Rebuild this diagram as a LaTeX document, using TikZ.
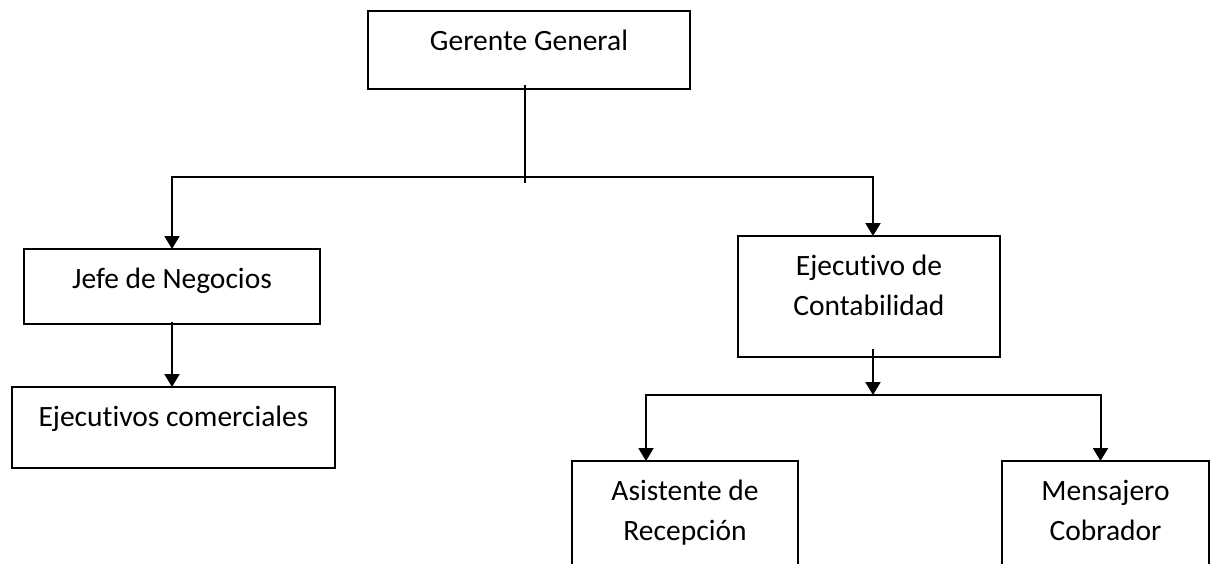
\documentclass[tikz,border=0pt]{standalone}
\usepackage{fontspec}
\setmainfont{Carlito}[Ligatures={NoCommon}]
\usetikzlibrary{arrows.meta}

\begin{document}
\begin{tikzpicture}[x=1pt, y=-1pt, line width=2pt,
    orgbox/.style={draw, inner sep=0pt, outer sep=0pt, align=center, anchor=north west, text height=39pt, font=\fontsize{29.5}{40}\selectfont},
    twoline/.style={text height=79pt},
    >={Triangle[length=13pt,width=15pt]}]
    \useasboundingbox (0,0) rectangle (1217,563);
    \clip (0,0) rectangle (1217,563);
    \node[orgbox, minimum width=322pt, text depth=39pt] (gg) at (368,11) {Gerente General};
    \node[orgbox, minimum width=296pt, text depth=36pt] (jn) at (24,249) {Jefe de Negocios};
    \node[orgbox, minimum width=323pt, text depth=42pt] (ejc) at (12,387) {Ejecutivos comerciales};
    \node[orgbox, twoline, minimum width=262pt, text depth=42pt] (ec) at (738,236) {Ejecutivo de\\Contabilidad};
    \node[orgbox, twoline, minimum width=226pt, text depth=60pt] (as) at (572,461) {Asistente de\\Recepción};
    \node[orgbox, twoline, minimum width=207pt, text depth=60pt] (ms) at (1002,461) {Mensajero\\Cobrador};
    \coordinate (top) at (525,177);
    \coordinate (toptail) at (525,183);
    \coordinate (low) at (873,395);
    \draw ([yshift=4pt]toptail |- gg.south) -- (toptail);
    \draw[->] (top) -| (jn.north);
    \draw[->] (top) -| (low |- ec.north);
    \draw[->] ([yshift=2pt]jn.south) -- (jn.south |- ejc.north);
    \draw[->] ([yshift=8pt]low |- ec.south) -- (low);
    \draw[->] (low) -| ([xshift=74pt]as.north west);
    \draw[->] (low) -| ([xshift=-5pt]ms.north);
\end{tikzpicture}
\end{document}
